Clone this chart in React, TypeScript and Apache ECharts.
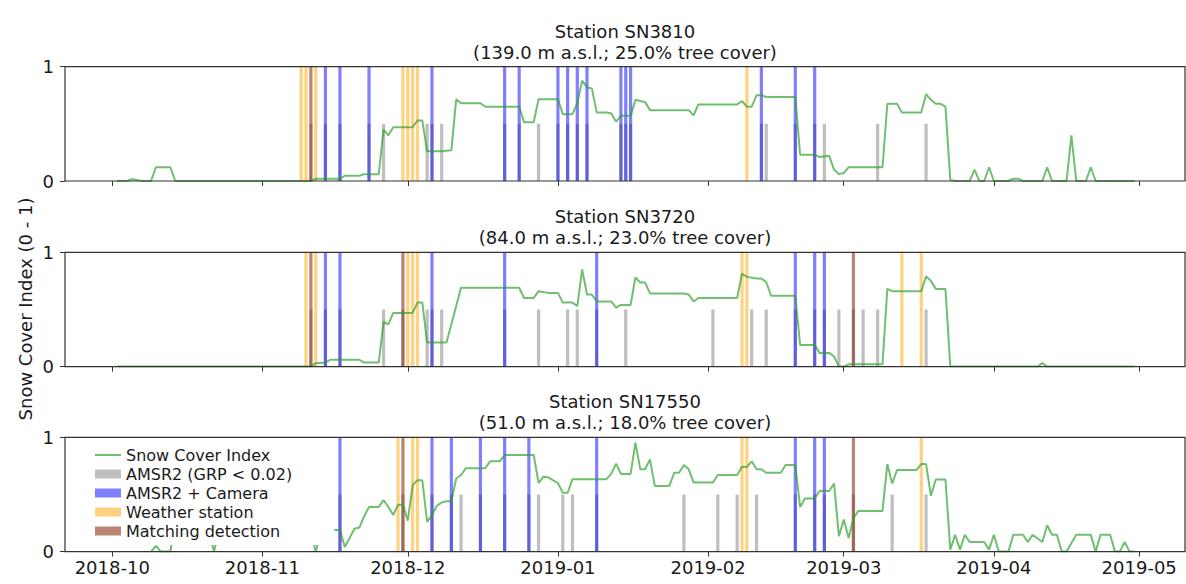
import React, { useEffect, useRef } from 'react';
import * as echarts from 'echarts';

type Pt = [string, number | null];

// Station descriptions
const stationNames = ['Station SN3810', 'Station SN3720', 'Station SN17550'];
const stationInfo = [
  '(139.0 m a.s.l.; 25.0% tree cover)',
  '(84.0 m a.s.l.; 23.0% tree cover)',
  '(51.0 m a.s.l.; 18.0% tree cover)',
];

// Month tick labels on the shared time axis
const monthTicks = ['2018-10-01', '2018-11-01', '2018-12-01', '2019-01-01', '2019-02-01', '2019-03-01', '2019-04-01', '2019-05-01'];

// Snow Cover Index, station SN3810
const sn3810Sci: Pt[] = [
  ['2018-10-02', 0], ['2018-10-04', 0], ['2018-10-05', 0.015], ['2018-10-06', 0.01], ['2018-10-07', 0],
  ['2018-10-09', 0], ['2018-10-10', 0.12], ['2018-10-13', 0.12], ['2018-10-14', 0],
  ['2018-11-11', 0], ['2018-11-12', 0.02], ['2018-11-17', 0.02], ['2018-11-18', 0.046], ['2018-11-21', 0.046],
  ['2018-11-22', 0.06], ['2018-11-25', 0.06], ['2018-11-26', 0.45], ['2018-11-27', 0.4], ['2018-11-28', 0.47],
  ['2018-12-02', 0.47], ['2018-12-03', 0.53], ['2018-12-04', 0.53], ['2018-12-05', 0.26], ['2018-12-08', 0.26],
  ['2018-12-10', 0.27], ['2018-12-11', 0.715], ['2018-12-12', 0.68], ['2018-12-16', 0.68], ['2018-12-17', 0.65],
  ['2018-12-24', 0.65], ['2018-12-25', 0.515], ['2018-12-27', 0.515], ['2018-12-28', 0.715], ['2019-01-01', 0.715],
  ['2019-01-02', 0.585], ['2019-01-04', 0.585], ['2019-01-05', 0.68], ['2019-01-06', 0.878], ['2019-01-07', 0.82],
  ['2019-01-08', 0.81], ['2019-01-09', 0.6], ['2019-01-11', 0.6], ['2019-01-12', 0.59], ['2019-01-13', 0.52],
  ['2019-01-14', 0.57], ['2019-01-16', 0.57], ['2019-01-17', 0.71], ['2019-01-18', 0.7], ['2019-01-19', 0.69],
  ['2019-01-20', 0.62], ['2019-01-28', 0.62], ['2019-01-29', 0.575], ['2019-01-30', 0.67], ['2019-02-07', 0.67],
  ['2019-02-08', 0.7], ['2019-02-09', 0.65], ['2019-02-10', 0.65], ['2019-02-11', 0.75], ['2019-02-12', 0.75],
  ['2019-02-13', 0.735], ['2019-02-19', 0.735], ['2019-02-20', 0.23], ['2019-02-23', 0.23], ['2019-02-24', 0.21],
  ['2019-02-26', 0.22], ['2019-02-27', 0.1], ['2019-02-28', 0.06], ['2019-03-01', 0.07], ['2019-03-02', 0.12],
  ['2019-03-09', 0.12], ['2019-03-10', 0.675], ['2019-03-12', 0.675], ['2019-03-13', 0.6], ['2019-03-17', 0.6],
  ['2019-03-18', 0.76], ['2019-03-19', 0.71], ['2019-03-20', 0.675], ['2019-03-21', 0.675], ['2019-03-22', 0.65],
  ['2019-03-23', 0.01], ['2019-03-24', 0], ['2019-03-27', 0], ['2019-03-28', 0.1], ['2019-03-29', 0],
  ['2019-03-30', 0], ['2019-03-31', 0.12], ['2019-04-01', 0], ['2019-04-04', 0], ['2019-04-05', 0.02],
  ['2019-04-06', 0.02], ['2019-04-07', 0], ['2019-04-11', 0], ['2019-04-12', 0.12], ['2019-04-13', 0],
  ['2019-04-16', 0], ['2019-04-17', 0.4], ['2019-04-18', 0], ['2019-04-20', 0], ['2019-04-21', 0.12],
  ['2019-04-22', 0], ['2019-04-30', 0],
];

// Snow Cover Index, station SN3720
const sn3720Sci: Pt[] = [
  ['2018-10-02', 0], ['2018-11-11', 0], ['2018-11-12', 0.03], ['2018-11-14', 0.035], ['2018-11-15', 0.06],
  ['2018-11-21', 0.06], ['2018-11-22', 0.035], ['2018-11-25', 0.035], ['2018-11-26', 0.39], ['2018-11-27', 0.37],
  ['2018-11-28', 0.47], ['2018-12-02', 0.47], ['2018-12-03', 0.56], ['2018-12-04', 0.56], ['2018-12-05', 0.21],
  ['2018-12-09', 0.21], ['2018-12-12', 0.69], ['2018-12-24', 0.69], ['2018-12-25', 0.6], ['2018-12-27', 0.6],
  ['2018-12-28', 0.66], ['2018-12-30', 0.645], ['2019-01-01', 0.645], ['2019-01-02', 0.56], ['2019-01-04', 0.56],
  ['2019-01-05', 0.53], ['2019-01-06', 0.85], ['2019-01-07', 0.63], ['2019-01-08', 0.63], ['2019-01-09', 0.57],
  ['2019-01-12', 0.57], ['2019-01-13', 0.515], ['2019-01-14', 0.54], ['2019-01-16', 0.54], ['2019-01-17', 0.78],
  ['2019-01-18', 0.735], ['2019-01-19', 0.735], ['2019-01-20', 0.64], ['2019-01-27', 0.64], ['2019-01-28', 0.63],
  ['2019-01-29', 0.57], ['2019-01-30', 0.6], ['2019-02-07', 0.6], ['2019-02-08', 0.815], ['2019-02-09', 0.785],
  ['2019-02-11', 0.77], ['2019-02-12', 0.77], ['2019-02-13', 0.74], ['2019-02-14', 0.62], ['2019-02-19', 0.62],
  ['2019-02-20', 0.19], ['2019-02-23', 0.19], ['2019-02-24', 0.12], ['2019-02-26', 0.12], ['2019-02-27', 0.09],
  ['2019-02-28', 0], ['2019-03-01', 0], ['2019-03-02', 0.02], ['2019-03-09', 0.02], ['2019-03-10', 0.68],
  ['2019-03-11', 0.66], ['2019-03-17', 0.66], ['2019-03-18', 0.79], ['2019-03-19', 0.75], ['2019-03-20', 0.68],
  ['2019-03-22', 0.68], ['2019-03-23', 0], ['2019-04-10', 0], ['2019-04-11', 0.03], ['2019-04-12', 0],
  ['2019-04-30', 0],
];

// Snow Cover Index, station SN17550 (record starts on 9 October)
const sn17550Sci: Pt[] = [
  ['2018-10-09', 0], ['2018-10-10', 0.05], ['2018-10-11', 0], ['2018-10-13', 0], ['2018-10-14', 0.3],
  ['2018-10-18', 0.25], ['2018-10-21', 0.17], ['2018-10-22', 0], ['2018-10-23', 0.17], ['2018-10-28', 0.3],
  ['2018-11-05', 0.25], ['2018-11-11', 0.17], ['2018-11-12', 0], ['2018-11-13', 0.17], ['2018-11-15', 0.19],
  ['2018-11-17', 0.19], ['2018-11-18', 0.04], ['2018-11-20', 0.2], ['2018-11-21', 0.21], ['2018-11-22', 0.31],
  ['2018-11-23', 0.39], ['2018-11-25', 0.39], ['2018-11-26', 0.45], ['2018-11-27', 0.39], ['2018-11-28', 0.32],
  ['2018-11-29', 0.41], ['2018-11-30', 0.41], ['2018-12-01', 0.27], ['2018-12-02', 0.58], ['2018-12-03', 0.625],
  ['2018-12-04', 0.625], ['2018-12-05', 0.26], ['2018-12-06', 0.32], ['2018-12-07', 0.4], ['2018-12-08', 0.43],
  ['2018-12-09', 0.44], ['2018-12-10', 0.44], ['2018-12-11', 0.64], ['2018-12-12', 0.67], ['2018-12-13', 0.73],
  ['2018-12-17', 0.73], ['2018-12-18', 0.79], ['2018-12-20', 0.79], ['2018-12-21', 0.845], ['2018-12-27', 0.845],
  ['2018-12-28', 0.6], ['2018-12-29', 0.655], ['2018-12-30', 0.65], ['2019-01-01', 0.6], ['2019-01-02', 0.514],
  ['2019-01-03', 0.514], ['2019-01-04', 0.634], ['2019-01-11', 0.634], ['2019-01-12', 0.68], ['2019-01-13', 0.77],
  ['2019-01-14', 0.68], ['2019-01-16', 0.68], ['2019-01-17', 0.953], ['2019-01-18', 0.72], ['2019-01-19', 0.72],
  ['2019-01-20', 0.807], ['2019-01-21', 0.575], ['2019-01-24', 0.575], ['2019-01-25', 0.69], ['2019-01-26', 0.69],
  ['2019-01-27', 0.757], ['2019-01-28', 0.72], ['2019-01-29', 0.605], ['2019-02-02', 0.605], ['2019-02-03', 0.67],
  ['2019-02-07', 0.67], ['2019-02-08', 0.743], ['2019-02-09', 0.74], ['2019-02-10', 0.79], ['2019-02-11', 0.72],
  ['2019-02-12', 0.72], ['2019-02-13', 0.69], ['2019-02-16', 0.69], ['2019-02-17', 0.757], ['2019-02-19', 0.757],
  ['2019-02-20', 0.39], ['2019-02-21', 0.465], ['2019-02-23', 0.465], ['2019-02-24', 0.53], ['2019-02-26', 0.53],
  ['2019-02-27', 0.596], ['2019-02-28', 0.135], ['2019-03-01', 0.28], ['2019-03-02', 0.12], ['2019-03-03', 0.29],
  ['2019-03-04', 0.356], ['2019-03-09', 0.356], ['2019-03-10', 0.766], ['2019-03-11', 0.596], ['2019-03-12', 0.713],
  ['2019-03-16', 0.713], ['2019-03-17', 0.766], ['2019-03-18', 0.766], ['2019-03-19', 0.488], ['2019-03-20', 0.631],
  ['2019-03-22', 0.631], ['2019-03-23', 0.017], ['2019-03-24', 0.148], ['2019-03-25', 0.017], ['2019-03-26', 0.148],
  ['2019-03-27', 0.084], ['2019-03-30', 0.084], ['2019-03-31', 0.017], ['2019-04-01', 0.148], ['2019-04-02', 0],
  ['2019-04-04', 0], ['2019-04-05', 0.148], ['2019-04-07', 0.148], ['2019-04-08', 0.084], ['2019-04-09', 0.148],
  ['2019-04-11', 0.084], ['2019-04-12', 0.23], ['2019-04-13', 0.148], ['2019-04-14', 0.148], ['2019-04-15', 0],
  ['2019-04-16', 0], ['2019-04-18', 0.148], ['2019-04-21', 0.148], ['2019-04-22', 0], ['2019-04-23', 0.148],
  ['2019-04-25', 0.148], ['2019-04-26', 0], ['2019-04-27', 0], ['2019-04-28', 0.084], ['2019-04-29', 0],
  ['2019-04-30', 0],
];

// Detection dates: AMSR2 only (GRP < 0.02)
const sn3810Amsr2 = ['2018-11-26', '2018-12-05', '2018-12-08', '2018-12-28', '2019-02-13', '2019-02-25', '2019-03-08', '2019-03-18'];
const sn3720Amsr2 = ['2018-11-26', '2018-12-05', '2018-12-08', '2018-12-28', '2019-01-03', '2019-01-05', '2019-01-15', '2019-02-02', '2019-02-10', '2019-02-13', '2019-02-28', '2019-03-05', '2019-03-08', '2019-03-18'];
const sn17550Amsr2 = ['2018-12-12', '2018-12-28', '2019-01-02', '2019-01-04', '2019-01-27', '2019-02-03', '2019-02-07', '2019-02-11', '2019-03-11', '2019-03-18'];

// Detection dates: AMSR2 confirmed by camera
const sn3810Camera = ['2018-11-14', '2018-11-17', '2018-11-23', '2018-12-06', '2018-12-21', '2018-12-24', '2019-01-01', '2019-01-03', '2019-01-05', '2019-01-07', '2019-01-14', '2019-01-15', '2019-01-16', '2019-02-12', '2019-02-19', '2019-02-23'];
const sn3720Camera = ['2018-11-14', '2018-11-17', '2018-12-06', '2018-12-21', '2019-01-09', '2019-02-19', '2019-02-23', '2019-02-25'];
const sn17550Camera = ['2018-11-17', '2018-12-06', '2018-12-10', '2018-12-16', '2018-12-21', '2018-12-26', '2019-01-09', '2019-02-19', '2019-02-23', '2019-02-25'];

// Detection dates: weather station
const sn3810Weather = ['2018-11-09', '2018-11-10', '2018-11-12', '2018-11-30', '2018-12-01', '2018-12-02', '2018-12-03', '2019-02-09'];
const sn3720Weather = ['2018-11-10', '2018-11-12', '2018-12-01', '2018-12-02', '2018-12-03', '2019-02-08', '2019-02-09', '2019-03-13', '2019-03-17'];
const sn17550Weather = ['2018-11-29', '2018-12-02', '2018-12-03', '2019-02-08', '2019-02-09', '2019-03-17'];

// Detection dates: AMSR2 and weather station agree
const sn3810Matching = ['2018-11-11'];
const sn3720Matching = ['2018-11-11', '2018-11-30', '2019-03-03'];
const sn17550Matching = ['2018-11-30', '2019-03-03'];

const sciSeries = [sn3810Sci, sn3720Sci, sn17550Sci];
const amsr2Dates = [sn3810Amsr2, sn3720Amsr2, sn17550Amsr2];
const cameraDates = [sn3810Camera, sn3720Camera, sn17550Camera];
const weatherDates = [sn3810Weather, sn3720Weather, sn17550Weather];
const matchingDates = [sn3810Matching, sn3720Matching, sn17550Matching];

const DAY = 86400000;
const utc = (s: string) => {
  const [y, m, d] = s.split('-').map(Number);
  return Date.UTC(y, m - 1, d);
};
const X_MIN = utc('2018-10-01') - 9.76 * DAY;
const X_MAX = utc('2018-10-01') + 221.45 * DAY;

const FONT = '"DejaVu Sans", Verdana, sans-serif';
const TEXT = '#1a1a1a';
const SPINE = '#333333';

const PLOT_LEFT = 65;
const PLOT_WIDTH = 1120;
const PLOT_TOPS = [66.7, 252.3, 437.3];
const PLOT_HEIGHT = 114.3;

const COLORS = {
  sci: 'rgba(44,160,44,0.68)',
  amsr2: 'rgba(128,128,128,0.5)',
  camera: 'rgba(0,0,255,0.5)',
  weather: 'rgba(255,165,0,0.5)',
  matching: 'rgba(140,50,20,0.6)',
};

const NAMES = {
  sci: 'Snow Cover Index',
  amsr2: 'AMSR2 (GRP < 0.02)',
  camera: 'AMSR2 + Camera',
  weather: 'Weather station',
  matching: 'Matching detection',
};

const fmtMonth = (v: number) => {
  const d = new Date(v);
  return `${d.getUTCFullYear()}-${String(d.getUTCMonth() + 1).padStart(2, '0')}`;
};

function spanSeries(name: string, color: string, dates: string[], height: number, idx: number) {
  return {
    type: 'custom',
    name,
    xAxisIndex: idx,
    yAxisIndex: idx,
    clip: true,
    itemStyle: { color },
    encode: { x: 0, y: 1 },
    data: dates.map((d) => [utc(d), height]),
    renderItem: (_params: any, api: any) => {
      const t = api.value(0);
      const h = api.value(1);
      const top = api.coord([t, h]);
      const base = api.coord([t, 0]);
      return {
        type: 'rect',
        shape: { x: top[0] - 1.6, y: top[1], width: 3.2, height: base[1] - top[1] },
        style: { fill: color },
      };
    },
  };
}

function buildOption() {
  const tickValues = monthTicks.map(utc);
  const series: any[] = [];
  const grids: any[] = [];
  const xAxes: any[] = [];
  const yAxes: any[] = [];
  const graphics: any[] = [];

  PLOT_TOPS.forEach((top, i) => {
    grids.push({ left: PLOT_LEFT, width: PLOT_WIDTH, top, height: PLOT_HEIGHT, containLabel: false });
    xAxes.push({
      type: 'value',
      gridIndex: i,
      min: X_MIN,
      max: X_MAX,
      axisLine: { show: false },
      splitLine: { show: false },
      axisTick: { show: true, length: 5, lineStyle: { color: SPINE, width: 1 }, customValues: tickValues },
      axisLabel: {
        show: i === 2,
        customValues: tickValues,
        formatter: fmtMonth,
        fontSize: 18,
        fontFamily: FONT,
        color: TEXT,
        margin: 7,
        showMinLabel: true,
        showMaxLabel: true,
      },
    });
    yAxes.push({
      type: 'value',
      gridIndex: i,
      min: 0,
      max: 1,
      interval: 1,
      axisLine: { show: false },
      splitLine: { show: false },
      axisTick: { show: true, length: 5, lineStyle: { color: SPINE, width: 1 } },
      axisLabel: { fontSize: 18, fontFamily: FONT, color: TEXT, margin: 11 },
    });

    series.push({
      type: 'line',
      name: NAMES.sci,
      xAxisIndex: i,
      yAxisIndex: i,
      symbol: 'none',
      showSymbol: false,
      connectNulls: false,
      lineStyle: { color: COLORS.sci, width: 2 },
      itemStyle: { color: COLORS.sci },
      data: sciSeries[i].map(([d, v]) => [utc(d), v]),
      z: 2,
    });
    const amsr2All = [...amsr2Dates[i], ...cameraDates[i], ...matchingDates[i]];
    series.push(spanSeries(NAMES.amsr2, COLORS.amsr2, amsr2All, 0.5, i));
    series.push(spanSeries(NAMES.camera, COLORS.camera, cameraDates[i], 1, i));
    series.push(spanSeries(NAMES.weather, COLORS.weather, weatherDates[i], 1, i));
    series.push(spanSeries(NAMES.matching, COLORS.matching, matchingDates[i], 1, i));

    // panel titles
    graphics.push({
      type: 'text',
      x: PLOT_LEFT + PLOT_WIDTH / 2,
      y: top - 35.5,
      style: { text: stationNames[i], font: `18px ${FONT}`, fill: TEXT, textAlign: 'center', textVerticalAlign: 'middle', align: 'center', verticalAlign: 'middle' },
    });
    graphics.push({
      type: 'text',
      x: PLOT_LEFT + PLOT_WIDTH / 2,
      y: top - 14.5,
      style: { text: stationInfo[i], font: `18px ${FONT}`, fill: TEXT, textAlign: 'center', textVerticalAlign: 'middle', align: 'center', verticalAlign: 'middle' },
    });
    // axes frame drawn above the data
    graphics.push({
      type: 'rect',
      silent: true,
      z: 100,
      shape: { x: PLOT_LEFT, y: top, width: PLOT_WIDTH, height: PLOT_HEIGHT },
      style: { fill: 'none', stroke: SPINE, lineWidth: 1.2 },
    });
  });

  graphics.push({
    type: 'text',
    x: 25,
    y: 309,
    rotation: Math.PI / 2,
    style: {
      text: 'Snow Cover Index (0 - 1)',
      font: `18px ${FONT}`,
      fill: TEXT,
      textAlign: 'center',
      textVerticalAlign: 'middle',
      align: 'center',
      verticalAlign: 'middle',
    },
  });

  return {
    animation: false,
    backgroundColor: '#ffffff',
    grid: grids,
    xAxis: xAxes,
    yAxis: yAxes,
    series,
    legend: {
      orient: 'vertical',
      left: 68,
      top: 439,
      padding: [8, 42, 6, 26],
      backgroundColor: '#ffffff',
      itemWidth: 26,
      itemHeight: 9,
      itemGap: 3,
      selectedMode: false,
      textStyle: { fontSize: 16, fontFamily: FONT, color: TEXT, lineHeight: 16 },
      data: [
        // plain line sample, no marker
        { name: NAMES.sci, itemStyle: { opacity: 0, color: 'rgba(0,0,0,0)', borderWidth: 0 } },
        { name: NAMES.amsr2, icon: 'rect' },
        { name: NAMES.camera, icon: 'rect' },
        { name: NAMES.weather, icon: 'rect' },
        { name: NAMES.matching, icon: 'rect' },
      ],
    },
    graphic: graphics,
  };
}

export default function App() {
  const ref = useRef<HTMLDivElement>(null);
  useEffect(() => {
    if (!ref.current) return;
    const chart = echarts.init(ref.current, null, { renderer: 'svg' });
    chart.setOption(buildOption() as any);
    return () => chart.dispose();
  }, []);
  return (
    <div
      ref={ref}
      style={{ position: 'fixed', left: 0, top: 0, width: 1186, height: 584, background: '#fff' }}
    />
  );
}
